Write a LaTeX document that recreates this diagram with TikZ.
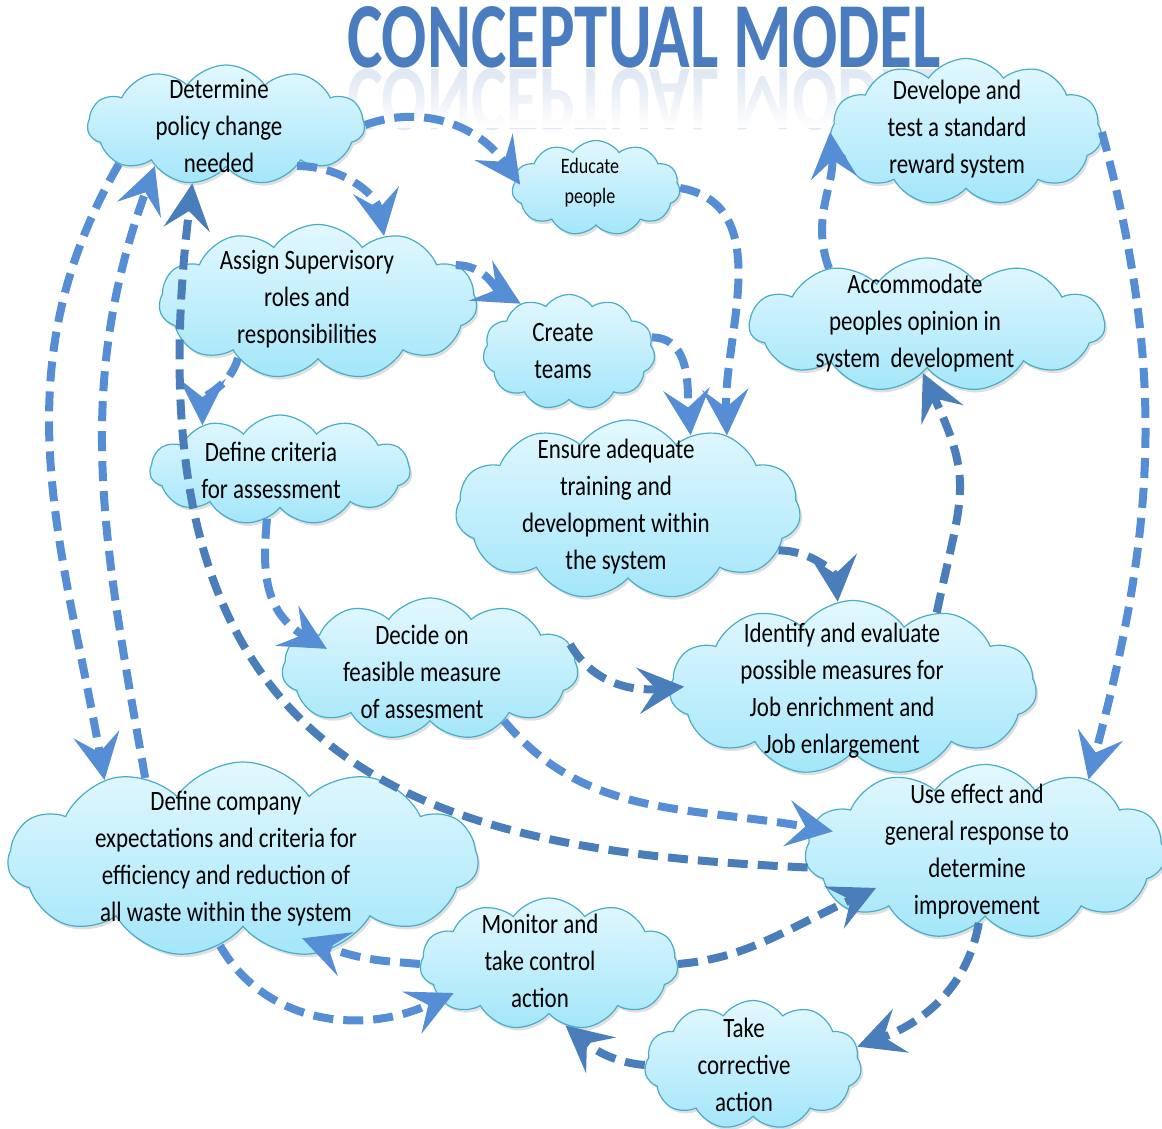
\documentclass[tikz,border=0pt]{standalone}
\usepackage{fontspec}
\setmainfont{Carlito}[FakeStretch=0.82]
\newfontfamily\titlefont{Carlito}[FakeStretch=0.72]
\usetikzlibrary{shapes.symbols,arrows.meta,shadows,fadings}

\definecolor{flowblue}{HTML}{558ED5}
\definecolor{flowdark}{HTML}{4A7EBB}
\definecolor{cloudtop}{HTML}{E3F8FE}
\definecolor{cloudbot}{HTML}{A3E6FA}
\definecolor{cloudline}{HTML}{4BACC6}
\definecolor{titleblue}{HTML}{4A7CC0}

\tikzset{
  cloudbox/.style={cloud, cloud puffs=11, cloud puff arc=110, cloud ignores aspect,
    draw=cloudline, line width=1.2pt, top color=cloudtop, bottom color=cloudbot,
    inner sep=0pt, drop shadow={opacity=0.25, shadow xshift=2pt, shadow yshift=-3pt}},
  txt/.style={align=center, font=\fontsize{28}{37}\selectfont, inner sep=0pt},
  flow/.style={draw=flowblue, line width=8pt, dash pattern=on 20pt off 10pt,
    -{Stealth[length=46pt, width=46pt, inset=18pt]}},
  flowdk/.style={flow, draw=flowdark}
}

\begin{document}
\begin{tikzpicture}[x=1pt,y=1pt]
    \useasboundingbox (0,0) rectangle (1162,-1129);

    % heading and its mirror image
    \node[anchor=base, text=titleblue, font=\titlefont\bfseries\fontsize{93}{93}\selectfont, inner sep=0pt] (title) at (644,-68) {CONCEPTUAL MODEL};
    \node[anchor=base, text=titleblue!40, opacity=0.45, yscale=-1, transform shape, font=\titlefont\bfseries\fontsize{93}{93}\selectfont, inner sep=0pt] (mirror) at (644,-70) {CONCEPTUAL MODEL};
    \fill[white, path fading=north] (330,-72) rectangle (960,-128);

    % clouds
    \node[cloudbox, minimum width=277pt, minimum height=120pt] (policy) at (226,-125) {};
    \node[cloudbox, minimum width=168pt, minimum height=95pt] (educate) at (596,-188) {};
    \node[cloudbox, minimum width=272pt, minimum height=147pt] (develop) at (966,-132) {};
    \node[cloudbox, minimum width=318pt, minimum height=155pt] (assign) at (318,-302) {};
    \node[cloudbox, minimum width=172pt, minimum height=115pt] (teams) at (569,-352) {};
    \node[cloudbox, minimum width=355pt, minimum height=134pt] (opinion) at (927,-325) {};
    \node[cloudbox, minimum width=260pt, minimum height=110pt] (criteria) at (280,-470) {};
    \node[cloudbox, minimum width=345pt, minimum height=180pt] (training) at (628,-510) {};
    \node[cloudbox, minimum width=296pt, minimum height=142pt] (decide) at (430,-669) {};
    \node[cloudbox, minimum width=367pt, minimum height=175pt] (identify) at (853,-688) {};
    \node[cloudbox, minimum width=470pt, minimum height=196pt] (company) at (243,-860) {};
    \node[cloudbox, minimum width=360pt, minimum height=175pt] (response) at (985,-852) {};
    \node[cloudbox, minimum width=258pt, minimum height=132pt] (monitor) at (549,-964) {};
    \node[cloudbox, minimum width=217pt, minimum height=129pt] (corrective) at (753,-1065) {};

    % cloud texts
    \node[txt] (policy-t) at (219,-126) {Determine\\policy change\\needed};
    \node[txt, font=\fontsize{22}{30}\selectfont] (educate-t) at (590,-183) {Educate\\people};
    \node[txt] (develop-t) at (957,-129) {Develope and\\test a standard\\reward system};
    \node[txt] (assign-t) at (307,-299) {Assign Supervisory\\roles and\\responsibilities};
    \node[txt] (teams-t) at (563,-351) {Create\\teams};
    \node[txt] (opinion-t) at (915,-323) {Accommodate\\peoples opinion in\\system\ \ development};
    \node[txt] (criteria-t) at (271,-470) {Define criteria\\for assessment};
    \node[txt] (training-t) at (616,-507) {Ensure adequate\\training and\\development within\\the system};
    \node[txt] (decide-t) at (422,-672) {Decide on\\feasible measure\\of assesment};
    \node[txt] (identify-t) at (842,-691) {Identify and evaluate\\possible measures for\\Job enrichment and\\Job enlargement};
    \node[txt] (company-t) at (226,-859) {Define company\\expectations and criteria for\\efficiency and reduction of\\all waste within the system};
    \node[txt] (response-t) at (977,-852) {Use effect and\\general response to\\determine\\improvement};
    \node[txt] (monitor-t) at (540,-961) {Monitor and\\take control\\action};
    \node[txt] (corrective-t) at (744,-1065) {Take\\corrective\\action};

    % connectors
    \draw[flow, shorten >=-10pt] (policy.east) to[out=20,in=125] (educate.172);
    \draw[flow] (policy.-30) to[out=0,in=100] (assign.45);
    \draw[flow] (educate.east) to[out=-10,in=92] (training.37);
    \draw[flow] (assign.15) to[out=0,in=150] (teams.135);
    \draw[flow] (teams.10) to[out=0,in=95] (training.50);
    \draw[flow] (assign.215) to[out=-105,in=90] (criteria.150);
    \draw[flow, shorten >=-28pt] (criteria.255) to[out=-95,in=150] (decide.165);
    \draw[flowdk] (training.-15) to[out=0,in=95] (identify.100);
    \draw[flowdk, shorten >=-15pt] (decide.10) to[out=-60,in=185] (identify.west);
    \draw[flowdk] (identify.42) to[out=78,in=-65,looseness=1.3] (opinion.265);
    \draw[flow] (opinion.150) to[out=110,in=-85] (develop.west);
    \draw[flow] (develop.east) to[out=-75,in=75] (response.35);
    \draw[flow, shorten >=-22pt] (decide.-35) to[out=-50,in=170] (response.172);
    \draw[flow] (policy.200) to[out=240,in=100] (company.150);
    \draw[flow] (company.140) to[out=100,in=-110] (policy.210);
    \draw[flowdk] (response.185) .. controls (430,-850) and (120,-780) .. (policy.240);
    \draw[flow, shorten >=-32pt] (monitor.west) to[out=175,in=-20] (company.-45);
    \draw[flow, shorten >=-15pt] (company.-105) to[out=-60,in=205] (monitor.198);
    \draw[flowdk, shorten >=-40pt] (monitor.east) to[out=5,in=205] (response.200);
    \draw[flowdk] (response.-95) to[out=-100,in=20] (corrective.10);
    \draw[flowdk] (corrective.west) to[out=175,in=-40] (monitor.-75);
\end{tikzpicture}
\end{document}
